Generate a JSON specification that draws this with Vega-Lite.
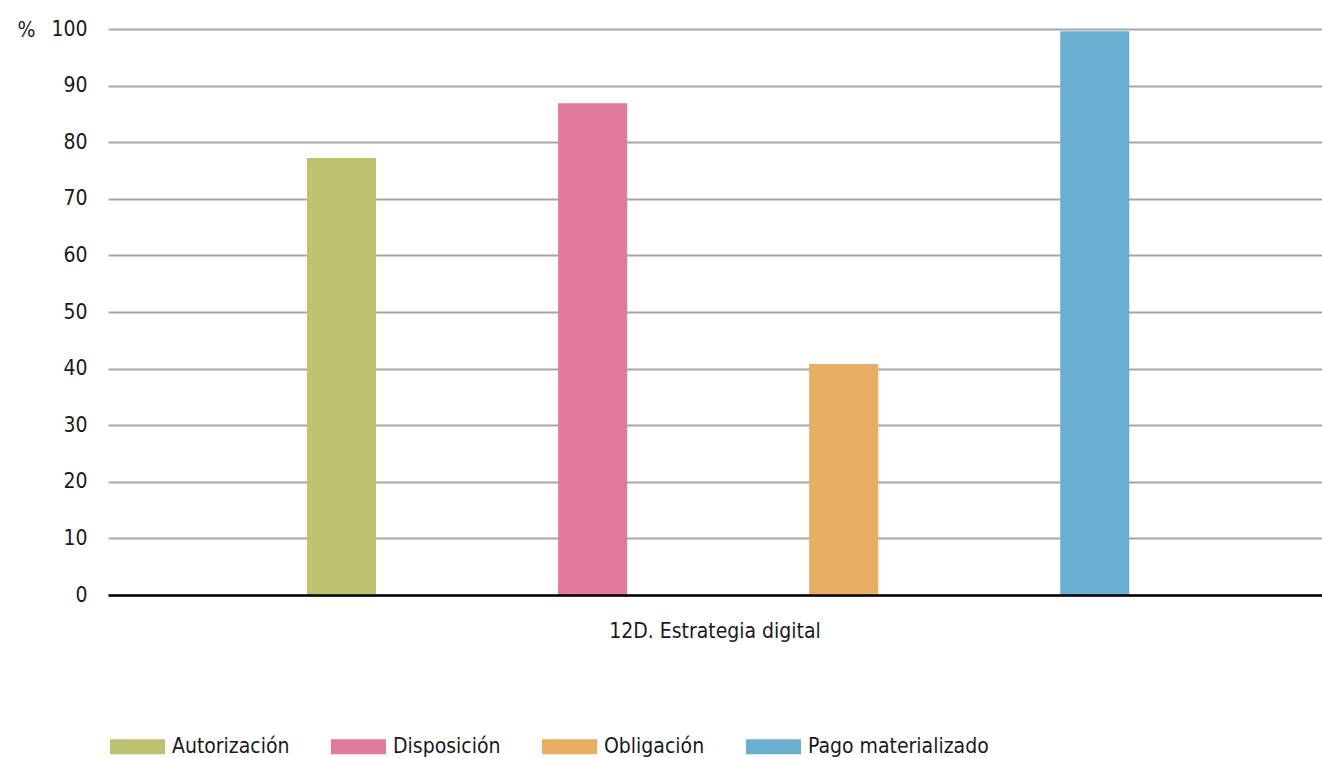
{
  "$schema": "https://vega.github.io/schema/vega-lite/v6.json",
  "width": 1214,
  "height": 566,
  "autosize": {"type": "none"},
  "padding": {"left": 108, "top": 29, "right": 0, "bottom": 163},
  "background": "white",
  "config": {
    "font": "DejaVu Sans Condensed, Roboto",
    "view": {"stroke": null}
  },
  "data": {
    "values": [
      {"grupo": "12D. Estrategia digital", "serie": "Autorización", "valor": 77.2},
      {"grupo": "12D. Estrategia digital", "serie": "Disposición", "valor": 86.9},
      {"grupo": "12D. Estrategia digital", "serie": "Obligación", "valor": 40.8},
      {"grupo": "12D. Estrategia digital", "serie": "Pago materializado", "valor": 99.6}
    ]
  },
  "mark": {"type": "bar"},
  "encoding": {
    "x": {
      "field": "grupo",
      "type": "nominal",
      "scale": {"paddingInner": 0, "paddingOuter": 0},
      "axis": {
        "title": null,
        "labelAngle": 0,
        "labelLimit": 0,
        "ticks": false,
        "domainColor": "#000000",
        "domainWidth": 2.5,
        "zindex": 1,
        "labelFontSize": 21,
        "labelColor": "#1a1a1a",
        "labelPadding": 25
      }
    },
    "xOffset": {
      "field": "serie",
      "type": "nominal",
      "sort": ["Autorización", "Disposición", "Obligación", "Pago materializado"],
      "scale": {"paddingInner": 0.725, "paddingOuter": 0.78, "align": 0.508}
    },
    "y": {
      "field": "valor",
      "type": "quantitative",
      "scale": {"domain": [0, 100]},
      "axis": {
        "title": "%",
        "titleAngle": 0,
        "titleAlign": "left",
        "titleBaseline": "middle",
        "titleX": -91,
        "titleY": 1,
        "titleFontSize": 21,
        "titleFontWeight": "normal",
        "titleColor": "#1a1a1a",
        "values": [0, 10, 20, 30, 40, 50, 60, 70, 80, 90, 100],
        "grid": true,
        "gridColor": "#A6A6A6",
        "gridWidth": 2,
        "domain": false,
        "ticks": false,
        "labelPadding": 21,
        "labelFontSize": 21,
        "labelColor": "#1a1a1a"
      }
    },
    "color": {
      "field": "serie",
      "type": "nominal",
      "scale": {
        "domain": ["Autorización", "Disposición", "Obligación", "Pago materializado"],
        "range": ["#BEC26E", "#E27A9B", "#E9AE61", "#6AAFD1"]
      },
      "legend": {
        "title": null,
        "orient": "none",
        "direction": "horizontal",
        "legendX": 2,
        "legendY": 690,
        "symbolType": "M-1,-0.273H1V0.273H-1Z",
        "symbolSize": 3025,
        "symbolStrokeWidth": 0,
        "symbolOpacity": 1,
        "labelFontSize": 21,
        "labelLimit": 0,
        "labelColor": "#1a1a1a",
        "labelOffset": 7,
        "columnPadding": 41
      }
    }
  }
}
